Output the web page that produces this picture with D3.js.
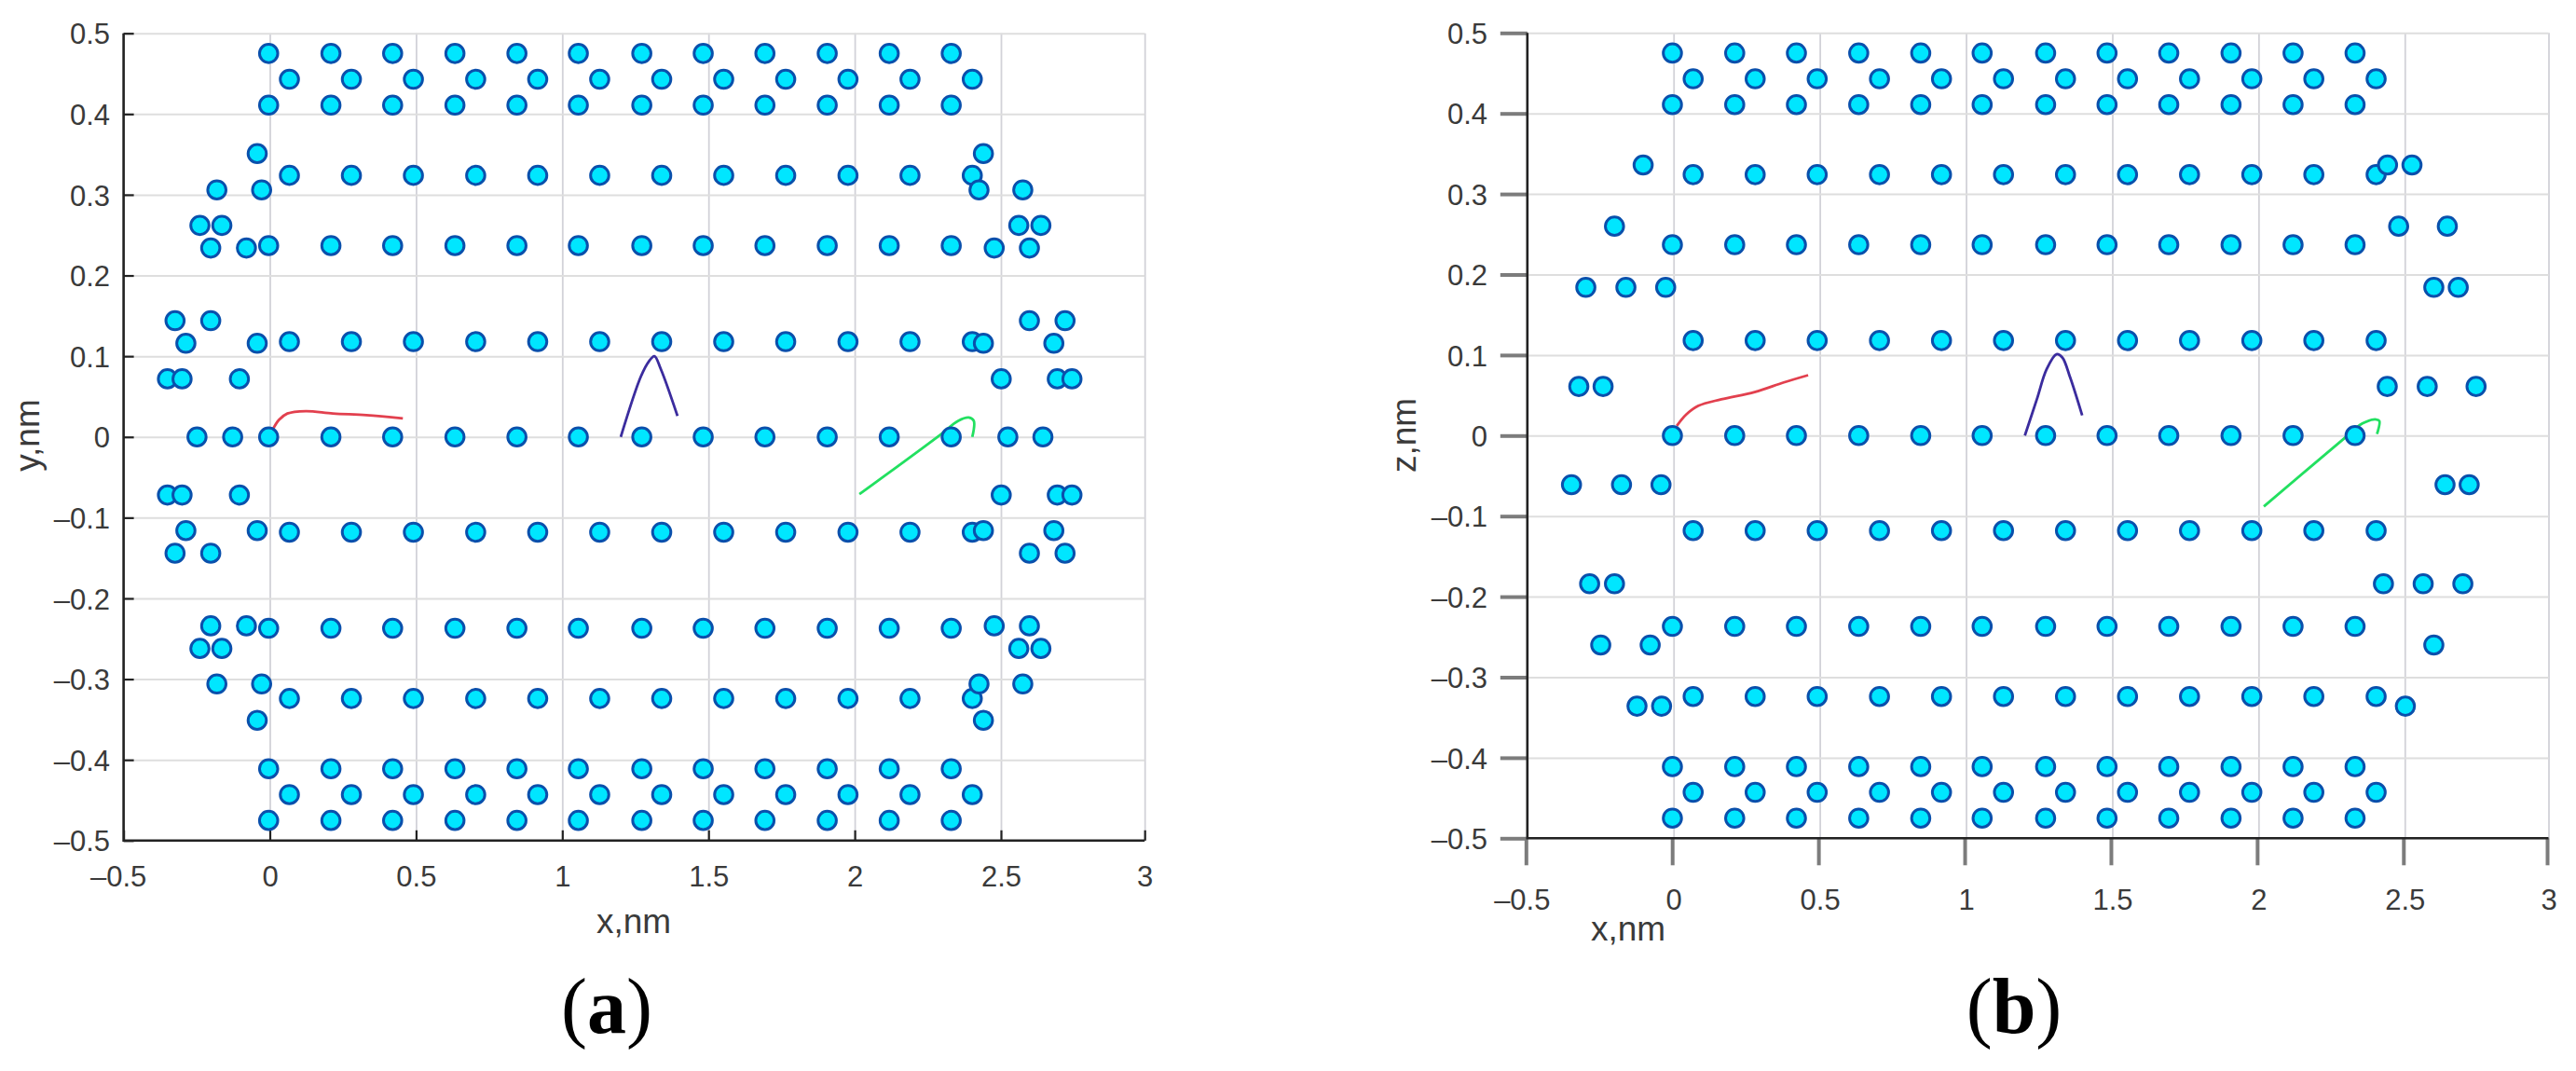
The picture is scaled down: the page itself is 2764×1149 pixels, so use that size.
<!DOCTYPE html>
<html><head><meta charset="utf-8">
<script src="https://d3js.org/d3.v7.min.js"></script>
<style>html,body{margin:0;padding:0;background:#fff}svg{display:block}text{font-family:"Liberation Sans",Arial,sans-serif;fill:#3a3a3a}</style>
</head><body><svg id="c" width="2764" height="1149"></svg>
<script>
const xTicks=[-0.5,0,0.5,1,1.5,2,2.5,3];
const yTicks=[-0.5,-0.4,-0.3,-0.2,-0.1,0,0.1,0.2,0.3,0.4,0.5];
const latticeEvenX=[-0.004,0.209,0.42,0.633,0.845,1.055,1.272,1.482,1.693,1.906,2.118,2.33];
const latticeOddX=[0.067,0.279,0.491,0.704,0.916,1.128,1.34,1.552,1.764,1.977,2.189,2.402];
const rowsEven=[0.475,0.411,0.237,0,-0.237,-0.411,-0.475];
const rowsOdd=[0.443,0.324,0.118,-0.118,-0.324,-0.443];
const extraA=[[-0.043,0.351],[-0.181,0.306],[-0.028,0.306],[-0.239,0.262],[-0.164,0.262],[-0.202,0.234],[-0.08,0.234],[-0.324,0.144],[-0.202,0.144],[-0.287,0.116],[-0.043,0.116],[-0.35,0.072],[-0.3,0.072],[-0.104,0.072],
[-0.249,0],[-0.127,0],
[-0.35,-0.072],[-0.3,-0.072],[-0.104,-0.072],[-0.287,-0.116],[-0.043,-0.116],[-0.324,-0.144],[-0.202,-0.144],[-0.202,-0.234],[-0.08,-0.234],[-0.239,-0.262],[-0.164,-0.262],[-0.181,-0.306],[-0.028,-0.306],[-0.043,-0.351],
[2.44,0.351],[2.425,0.306],[2.576,0.306],[2.562,0.262],[2.639,0.262],[2.477,0.234],[2.599,0.234],[2.599,0.144],[2.723,0.144],[2.44,0.116],[2.684,0.116],[2.501,0.072],[2.696,0.072],[2.747,0.072],
[2.524,0],[2.646,0],
[2.501,-0.072],[2.696,-0.072],[2.747,-0.072],[2.44,-0.116],[2.684,-0.116],[2.599,-0.144],[2.723,-0.144],[2.477,-0.234],[2.599,-0.234],[2.562,-0.262],[2.639,-0.262],[2.425,-0.306],[2.576,-0.306],[2.44,-0.351]];
const extraB=[[-0.104,0.336],[-0.202,0.26],[-0.3,0.184],[-0.163,0.184],[-0.027,0.184],[-0.324,0.061],[-0.241,0.061],[-0.349,-0.061],[-0.178,-0.061],[-0.043,-0.061],[-0.287,-0.184],[-0.202,-0.184],[-0.249,-0.26],[-0.08,-0.26],[-0.125,-0.336],[-0.041,-0.336],
[2.441,0.336],[2.525,0.336],[2.479,0.26],[2.648,0.26],[2.601,0.184],[2.686,0.184],[2.44,0.061],[2.578,0.061],[2.748,0.061],[2.64,-0.061],[2.724,-0.061],[2.427,-0.184],[2.564,-0.184],[2.702,-0.184],[2.601,-0.26],[2.502,-0.336]];
const redA=[[0.01,0.009],[0.031,0.021],[0.06,0.029],[0.123,0.032],[0.216,0.029],[0.33,0.027],[0.455,0.023]];
const blueA=[[1.2,0],[1.269,0.075],[1.297,0.094],[1.315,0.1],[1.337,0.084],[1.394,0.026]];
const greenA=[[2.016,-0.071],[2.29,0.002],[2.354,0.02],[2.39,0.024],[2.407,0.02],[2.402,0]];
const redB=[[0.011,0.012],[0.043,0.026],[0.085,0.037],[0.163,0.045],[0.277,0.054],[0.377,0.066],[0.46,0.075]];
const blueB=[[1.201,0],[1.242,0.045],[1.275,0.082],[1.309,0.101],[1.329,0.097],[1.356,0.072],[1.397,0.025]];
const greenB=[[2.018,-0.088],[2.288,-0.005],[2.355,0.015],[2.402,0.02],[2.413,0.018],[2.405,0.002]];
const lattice=rowsEven.flatMap(y=>latticeEvenX.map(x=>[x,y])).concat(rowsOdd.flatMap(y=>latticeOddX.map(x=>[x,y])));
const fmt=v=>(v<0?"\u2013":"")+Math.abs(v);
const svg=d3.select("#c");

function panel(o){
  const x=d3.scaleLinear().domain([-0.5,2.5,3]).range(o.xr);
  const y=d3.scaleLinear().domain([-0.5,0.5]).range(o.yr);
  const g=svg.append("g");
  const L=o.xr[0],R=o.xr[2],T=o.yr[1],B=o.yr[0];
  g.append("g").attr("transform",`translate(0,${B})`)
    .call(d3.axisBottom(x).tickValues(xTicks).tickSize(T-B).tickFormat(""))
    .call(s=>{s.select(".domain").remove();s.selectAll("line").attr("stroke","#d2d2d8").attr("stroke-width",1.8)});
  g.append("g").attr("transform",`translate(${L},0)`)
    .call(d3.axisLeft(y).tickValues(yTicks).tickSize(L-R).tickFormat(""))
    .call(s=>{s.select(".domain").remove();s.selectAll("line").attr("stroke","#dedede").attr("stroke-width",2)});
  const line=d3.line().x(d=>x(d[0])).y(d=>y(d[1])).curve(d3.curveCatmullRom.alpha(0.5));
  [[o.red,"#e2404e"],[o.blue,"#3b2c9e"],[o.green,"#22e060"]].forEach(([d,c])=>
    g.append("path").attr("d",line(d)).attr("fill","none").attr("stroke",c).attr("stroke-width",2.8));
  const xa=g.append("g").attr("transform",`translate(0,${B})`)
    .call(o.outer?d3.axisBottom(x).tickValues(xTicks).tickSize(29).tickFormat(fmt):d3.axisBottom(x).tickValues(xTicks).tickSizeInner(-11).tickSizeOuter(0).tickFormat(fmt));
  const ya=g.append("g").attr("transform",`translate(${L},0)`)
    .call(o.outer?d3.axisLeft(y).tickValues(yTicks).tickSize(29).tickFormat(fmt):d3.axisLeft(y).tickValues(yTicks).tickSizeInner(-11).tickSizeOuter(0).tickFormat(fmt));
  [xa,ya].forEach(a=>{
    a.select(".domain").remove();
    a.selectAll("line").attr("stroke",o.outer?"#7c7c7c":"#222").attr("stroke-width",o.outer?4:2.2);
    a.selectAll("text").attr("font-size",31).style("font-family",'"Liberation Sans",Arial,sans-serif').attr("fill","#3a3a3a");
  });
  if(o.outer) xa.selectAll("line").attr("transform","translate(-1.5,0)");
  xa.selectAll("text").attr("y",o.xLabelY-B).attr("dy","0.36em").attr("dx",d=>d===-0.5?-6:0);
  ya.selectAll("text").attr("x",o.yLabelX-L).attr("dy","0.36em");
  g.append("path").attr("d",d3.line()([[L,T],[L,B],[R,B]])).attr("fill","none").attr("stroke","#222").attr("stroke-width",2.6);
  g.append("g").selectAll("circle").data(lattice.concat(o.extra)).join("circle")
    .attr("cx",d=>x(d[0])).attr("cy",d=>y(d[1])).attr("r",9.8)
    .attr("fill","#00e6ff").attr("stroke","#0a50ac").attr("stroke-width",3);
  g.append("text").attr("x",o.xt[0]).attr("y",o.xt[1]).attr("text-anchor","middle").attr("font-size",37).text("x,nm");
  g.append("text").attr("transform",`translate(${o.yt[0]},${o.yt[1]}) rotate(-90)`).attr("text-anchor","middle").attr("font-size",37).text(o.yName);
  const cap=g.append("text").attr("x",o.cap[0]).attr("y",1108).attr("text-anchor","middle").attr("font-size",84).style("font-family",'"Liberation Serif",serif').style("fill","#000");
  cap.append("tspan").text("(");
  cap.append("tspan").attr("font-weight","bold").text(o.capName);
  cap.append("tspan").text(")");
}
panel({xr:[132.6,1074,1228.2],yr:[901.8,35.7],extra:extraA,red:redA,blue:blueA,green:greenA,outer:false,
  xLabelY:940,yLabelX:118,xt:[680,1001],yt:[42,467],yName:"y,nm",cap:[651],capName:"a"});
panel({xr:[1638.8,2580.3,2734.5],yr:[899.3,35.3],extra:extraB,red:redB,blue:blueB,green:greenB,outer:true,
  xLabelY:965,yLabelX:1596,xt:[1747,1009],yt:[1519,467],yName:"z,nm",cap:[2161],capName:"b"});
</script></body></html>
